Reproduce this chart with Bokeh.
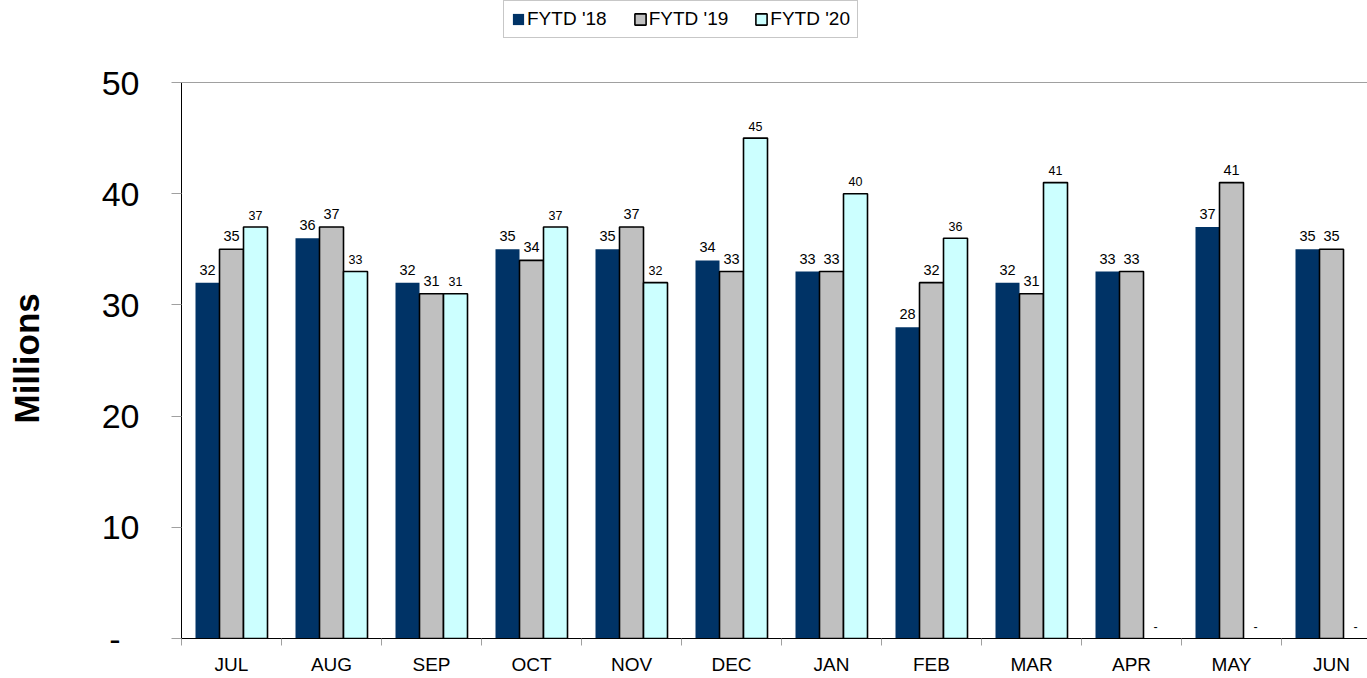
from bokeh.plotting import figure
from bokeh.models import Range1d, FixedTicker, Span, Legend, LegendItem
from bokeh.core.properties import value
from bokeh.embed import file_html
from bokeh.resources import INLINE

months = ["JUL", "AUG", "SEP", "OCT", "NOV", "DEC", "JAN", "FEB", "MAR", "APR", "MAY", "JUN"]
fy18 = [32, 36, 32, 35, 35, 34, 33, 28, 32, 33, 37, 35]
fy19 = [35, 37, 31, 34, 37, 33, 33, 32, 31, 33, 41, 35]
fy20 = [37, 33, 31, 37, 32, 45, 40, 36, 41, None, None, None]
series_names = ["FYTD '18", "FYTD '19", "FYTD '20"]
y_ticks = [0, 10, 20, 30, 40, 50]

FONT = "Liberation Sans"
NAVY = "#003366"
GREY = "#C0C0C0"
CYAN = "#CCFFFF"
TICKGREY = "#A0A0A0"

# frame spans y = 0..638 px; value 50 sits at 82 px from the top
y_top = 50 * 638 / 556

p = figure(width=1367, height=678, output_backend="svg", toolbar_location=None,
           x_range=Range1d(-0.5, 11.36), y_range=Range1d(0, y_top),
           min_border_left=181, min_border_right=0, min_border_top=0,
           min_border_bottom=40)
p.outline_line_color = None
p.xgrid.visible = False
p.ygrid.visible = False

idx = list(range(len(months)))
off = 0.24
x18 = [i - off for i in idx]
x19 = idx
x20 = [i + off for i in idx]
top20 = [float("nan") if v is None else v for v in fy20]

r18 = p.vbar(x=x18, top=fy18, bottom=0, width=0.24, fill_color=NAVY, line_color=None)
r19 = p.vbar(x=x19, top=fy19, bottom=0, width=0.24, fill_color=GREY, line_color="black", line_width=1.6)
r20 = p.vbar(x=x20, top=top20, bottom=0, width=0.24, fill_color=CYAN, line_color="black", line_width=1.6)

# data labels
p.text(x=x18, y=fy18, text=[str(v) for v in fy18], text_align="center",
       text_baseline="alphabetic", y_offset=-13, text_font=value(FONT),
       text_font_size="14.5px", text_color="black")
p.text(x=x19, y=fy19, text=[str(v) for v in fy19], text_align="center",
       text_baseline="alphabetic", y_offset=-13, text_font=value(FONT),
       text_font_size="14.5px", text_color="black")
p.text(x=x20, y=[0 if v is None else v for v in fy20],
       text=["-" if v is None else str(v) for v in fy20], text_align="center",
       text_baseline="alphabetic", y_offset=-12, text_font=value(FONT),
       text_font_size="12.5px", text_color="black")

# top line at 50
p.add_layout(Span(location=50, dimension="width", line_color=TICKGREY, line_width=1))

# y axis
ya = p.yaxis[0]
ya.bounds = (0, 50)
ya.ticker = FixedTicker(ticks=y_ticks, minor_ticks=[])
ya.major_label_overrides = {0: "-\u00a0\u00a0"}
ya.axis_line_color = "black"
ya.axis_line_width = 1
ya.major_tick_line_color = TICKGREY
ya.major_tick_out = 10
ya.major_tick_in = 0
ya.minor_tick_line_color = None
ya.major_label_text_font = FONT
ya.major_label_text_font_size = "34px"
ya.major_label_text_color = "black"
ya.major_label_standoff = 32
ya.axis_label = "Millions" + "\u00a0" * 8
ya.axis_label_text_font = FONT
ya.axis_label_text_font_size = "35px"
ya.axis_label_text_font_style = "bold"
ya.axis_label_text_color = "black"
ya.axis_label_standoff = 53

# x axis
xa = p.xaxis[0]
xa.ticker = FixedTicker(ticks=idx, minor_ticks=[i - 0.5 for i in range(len(months) + 1)])
xa.major_label_overrides = {i: m for i, m in zip(idx, months)}
xa.axis_line_color = "black"
xa.axis_line_width = 1
xa.major_tick_line_color = None
xa.major_tick_out = 0
xa.major_tick_in = 0
xa.minor_tick_line_color = TICKGREY
xa.minor_tick_out = 7
xa.minor_tick_in = 0
xa.major_label_text_font = FONT
xa.major_label_text_font_size = "19px"
xa.major_label_text_color = "black"
xa.major_label_standoff = 8

legend = Legend(items=[LegendItem(label=series_names[0], renderers=[r18]),
                       LegendItem(label=series_names[1], renderers=[r19]),
                       LegendItem(label=series_names[2], renderers=[r20])],
                orientation="horizontal", location=(322, 600), margin=0,
                padding=7, spacing=26, glyph_width=14, glyph_height=14,
                label_standoff=2, label_text_font=FONT, label_text_font_size="19px",
                label_text_color="black", border_line_color="#909090",
                border_line_width=1, background_fill_color="white",
                background_fill_alpha=1.0)
p.add_layout(legend, "center")

open("out.html", "w").write(file_html(p, INLINE))
